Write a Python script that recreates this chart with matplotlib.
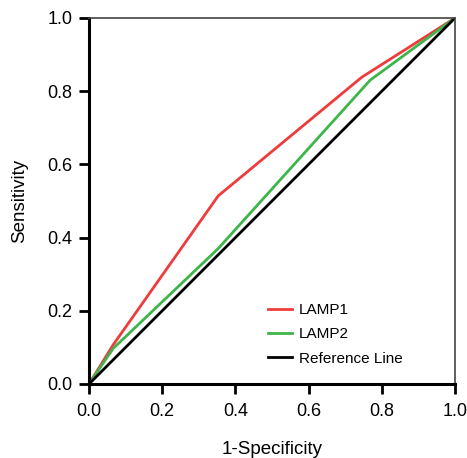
import numpy as np
import matplotlib
matplotlib.use("Agg")
import matplotlib.pyplot as plt

plt.rcParams['font.family'] = ['Liberation Sans', 'DejaVu Sans']

# ROC points
lamp1_fpr = [0.0, 0.066, 0.353, 0.745, 1.0]
lamp1_tpr = [0.0, 0.107, 0.514, 0.838, 1.0]
lamp2_fpr = [0.0, 0.066, 0.353, 0.768, 1.0]
lamp2_tpr = [0.0, 0.097, 0.370, 0.830, 1.0]
ref_line = [0.0, 1.0]
ticks = [0.0, 0.2, 0.4, 0.6, 0.8, 1.0]

fig = plt.figure(figsize=(4.67, 4.58), dpi=100)
ax = fig.add_axes([0.1906, 0.1616, 0.7837, 0.7991])

ax.plot(lamp1_fpr, lamp1_tpr, color='#EE3B3B', lw=2, label='LAMP1')
ax.plot(lamp2_fpr, lamp2_tpr, color='#3DB54A', lw=2, label='LAMP2')
ax.plot(ref_line, ref_line, color='black', lw=2, label='Reference Line')

ax.set_xlim(0, 1)
ax.set_ylim(0, 1)
ax.set_xticks(ticks)
ax.set_yticks(ticks)
ax.set_xticklabels([f'{t:.1f}' for t in ticks])
ax.set_yticklabels([f'{t:.1f}' for t in ticks])
ax.tick_params(direction='out', length=7, width=2, labelsize=13, color='black', pad=5)
ax.tick_params(axis='x', pad=7)

for s in ['left', 'bottom']:
    ax.spines[s].set_linewidth(2.2)
    ax.spines[s].set_color('black')
for s in ['top', 'right']:
    ax.spines[s].set_linewidth(1.2)
    ax.spines[s].set_color('#444444')

ax.set_xlabel('1-Specificity', fontsize=13.5, labelpad=15)
ax.set_ylabel('Sensitivity', fontsize=13.5, labelpad=14)

ax.legend(loc='lower left', bbox_to_anchor=(0.489, 0.05), frameon=False, fontsize=11,
          handlelength=1.55, handletextpad=0.45, labelspacing=0.68,
          borderpad=0, borderaxespad=0)

fig.savefig('out.png', dpi=100)
